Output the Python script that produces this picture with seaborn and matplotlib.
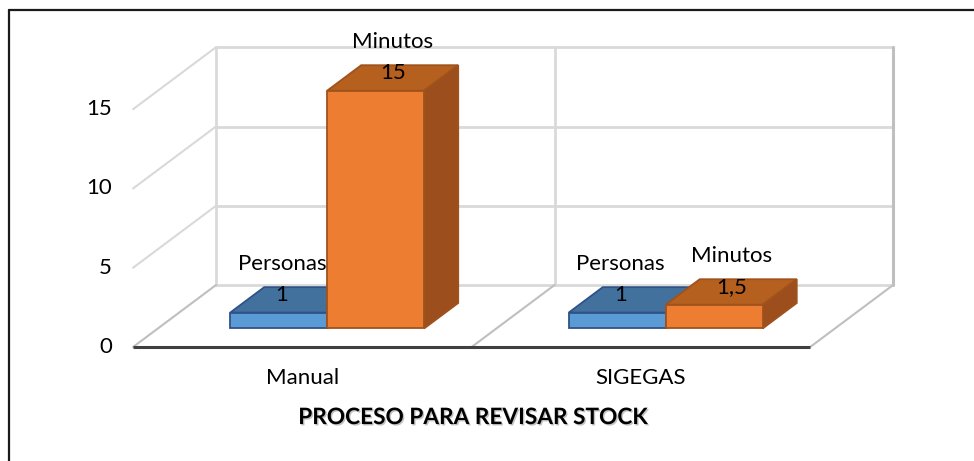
import numpy as np
import pandas as pd
import matplotlib
matplotlib.use("Agg")
import matplotlib.pyplot as plt
import seaborn as sns
from matplotlib.patches import Polygon
from matplotlib.lines import Line2D
import matplotlib.patheffects as pe

# --- data -------------------------------------------------------------
categories = ["Manual", "SIGEGAS"]
series = ["Personas", "Minutos"]
personas = [1, 1]
minutos = [15, 1.5]
personas_labels = ["1", "1"]
minutos_labels = ["15", "1,5"]
y_ticks = [0, 5, 10, 15]
axis_title = "PROCESO PARA REVISAR STOCK"

df = pd.DataFrame({
    "proceso": categories * 2,
    "serie": [series[0]] * len(categories) + [series[1]] * len(categories),
    "valor": personas + minutos,
})
value_text = dict(zip(zip(df["serie"], df["proceso"]), personas_labels + minutos_labels))

# --- style ------------------------------------------------------------
sns.set_theme(style="white")
plt.rcParams["font.family"] = ["Lato", "DejaVu Sans"]

face = {"Personas": "#5b9bd5", "Minutos": "#ed7d31"}
top = {"Personas": "#41719c", "Minutos": "#b5601f"}
side = {"Personas": "#3a6690", "Minutos": "#9c4f1c"}
edge = {"Personas": "#2f5288", "Minutos": "#a0521c"}

# oblique projection of the depth axis (in data units)
DX, DY = 0.245, 3.91      # full depth of the chart box
F0 = 0.30                 # depth at which the bars stand
BD = 0.41                 # depth of a bar
WALL = 15
FS = 16

fig = plt.figure(figsize=(9.74, 4.61), dpi=100)
ax = fig.add_axes([0, 0, 1, 1])

sns.barplot(data=df, x="proceso", y="valor", hue="serie", order=categories,
            hue_order=series, palette=face, width=0.573, dodge=True,
            legend=False, ax=ax, saturation=1, linewidth=1.3)

ax.set_xlim(-0.893, 1.984)
ax.set_ylim(-7.19, 21.89)
ax.axis("off")

# --- walls and floor ----------------------------------------------------
x0, x1 = -0.5, len(categories) - 0.5
grid_c, edge_c = "#d9d9d9", "#bfbfbf"
for t in y_ticks[1:]:
    ax.plot([x0 + DX, x1 + DX], [t + DY, t + DY], color=grid_c, lw=2, zorder=1)
    ax.plot([x0, x0 + DX], [t, t + DY], color=grid_c, lw=1.5, zorder=1)
ax.plot([x0 + DX, x1 + DX], [DY, DY], color=grid_c, lw=2, zorder=1)
for k in range(len(categories) + 1):
    xv = x0 + k + DX
    ax.plot([xv, xv], [DY, DY + WALL], color=edge_c if k == len(categories) else grid_c,
            lw=2.2 if k == len(categories) else 2, zorder=1)
    ax.plot([x0 + k, xv], [0, DY], color=edge_c, lw=1.5, zorder=1)
ax.plot([x0, x1], [0, 0], color="#404040", lw=2.2, zorder=2, solid_capstyle="butt")

# --- 3D bars ------------------------------------------------------------
bars = ax.patches[:len(df)]
info = []
for i, p in enumerate(bars):
    s = series[i // len(categories)]
    c = categories[i % len(categories)]
    h = p.get_height()
    p.set_x(p.get_x() + F0 * DX)
    p.set_y(F0 * DY)
    p.set_edgecolor(edge[s])
    z = 5 if s == series[0] else 7
    p.set_zorder(z + 0.5)
    xl, w, yb = p.get_x(), p.get_width(), p.get_y()
    xr, yt = xl + w, yb + h
    dx, dy = BD * DX, BD * DY
    ax.add_patch(Polygon([(xl, yt), (xr, yt), (xr + dx, yt + dy), (xl + dx, yt + dy)],
                         closed=True, fc=top[s], ec=edge[s], lw=1.3, zorder=z))
    ax.add_patch(Polygon([(xr, yb), (xr + dx, yb + dy), (xr + dx, yt + dy), (xr, yt)],
                         closed=True, fc=side[s], ec=edge[s], lw=1.3, zorder=z))
    info.append((s, c, xl + w / 2, yt))

# --- data labels ------------------------------------------------------
for s, c, xc, yt in info:
    shift = 0.01 if s == series[0] else 0.05
    ax.text(xc + shift, yt + 1.1, value_text[(s, c)], ha="center", va="center",
            fontsize=FS, color="black", zorder=10)
    ax.text(xc + shift, yt + 3.05, s, ha="center", va="center",
            fontsize=FS, color="black", zorder=10)

# --- axis texts -------------------------------------------------------
for t in y_ticks:
    ax.text(x0 - 0.062, t, str(t), ha="right", va="center", fontsize=FS, color="black")
for k, c in enumerate(categories):
    ax.text(k, -1.96, c, ha="center", va="center", fontsize=FS, color="black")
ax.text((x0 + x1) / 2 + 0.005, -4.45, axis_title, ha="center", va="center",
        fontsize=16.3, fontweight="bold", color="black",
        path_effects=[pe.withSimplePatchShadow(offset=(1, -1), shadow_rgbFace="#9a9a9a", alpha=0.6)])

# --- outer frame ------------------------------------------------------
fx, fy = 8.5 / 974, 1 - 10.5 / 461
fig.add_artist(Line2D([fx, fx], [0, fy], color="#1a1a1a", lw=1.6, transform=fig.transFigure))
fig.add_artist(Line2D([fx, 1], [fy, fy], color="#1a1a1a", lw=1.6, transform=fig.transFigure))

fig.savefig("out.png", dpi=100, facecolor="white")
